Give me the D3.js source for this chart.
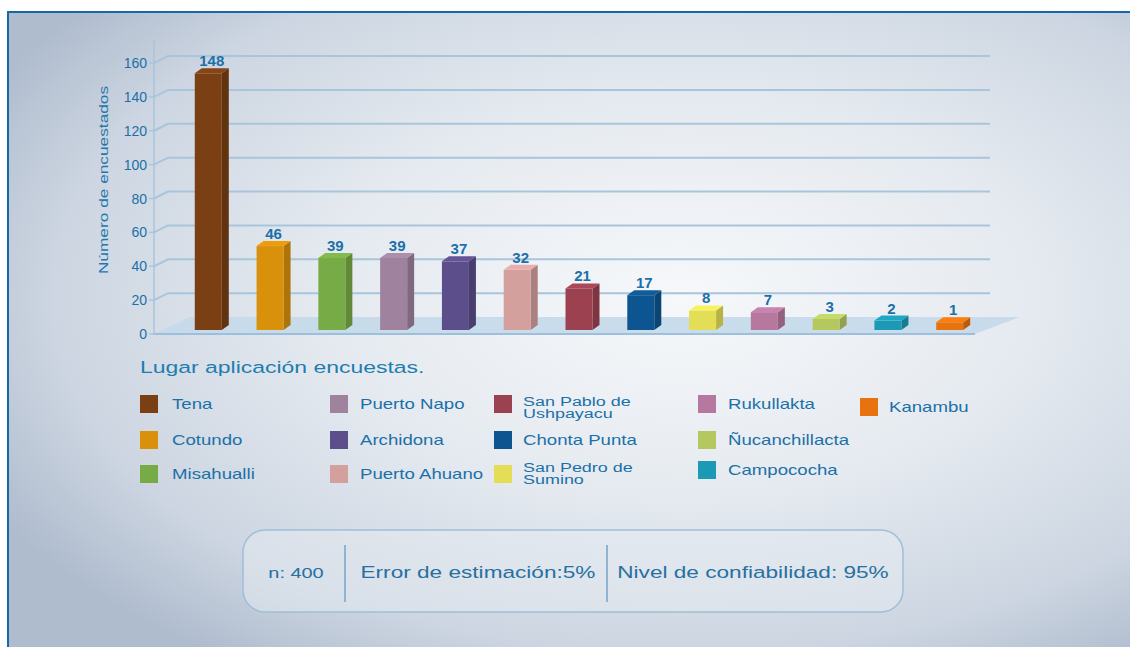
<!DOCTYPE html>
<html><head><meta charset="utf-8">
<script src="https://cdn.jsdelivr.net/npm/d3@7/dist/d3.min.js"></script>
<style>body{margin:0;background:#fff}svg{display:block}text{font-family:"Liberation Sans",Arial,sans-serif}</style>
</head><body><svg id="c" width="1130" height="647"></svg>
<script>
const categories = ["Tena","Cotundo","Misahualli","Puerto Napo","Archidona","Puerto Ahuano","San Pablo de Ushpayacu","Chonta Punta","San Pedro de Sumino","Rukullakta","Ñucanchillacta","Campococha","Kanambu"];
const values = [148,46,39,39,37,32,21,17,8,7,3,2,1];
const colors = ["#7a3f12","#d9900a","#77ab45","#9e829e","#5b4e8a","#d4a09e","#9c4150","#0d5590","#e3de55","#b7789f","#b5c860","#1c9ab5","#e8720e"];
const yTicks = [0,20,40,60,80,100,120,140,160];
const axisTitle = "Número de encuestados";
const legendTitle = "Lugar aplicación encuestas.";
const infoTexts = ["n: 400","Error de estimación:5%","Nivel de confiabilidad: 95%"];

const SX = 1.33; // extended face look
const svg = d3.select("#c");
const defs = svg.append("defs");
const rg = defs.append("radialGradient").attr("id","bg").attr("cx","60%").attr("cy","45%").attr("r","70%");
[[0,"#f6f8fa"],[0.45,"#e5eaf0"],[0.8,"#ccd5e1"],[1,"#afbcce"]].forEach(s=>rg.append("stop").attr("offset",s[0]).attr("stop-color",s[1]));

svg.append("rect").attr("x",7).attr("y",11).attr("width",1123).attr("height",636).attr("fill","url(#bg)");
svg.append("line").attr("x1",7).attr("x2",1130).attr("y1",12).attr("y2",12).attr("stroke","#1668a6").attr("stroke-width",2);
svg.append("line").attr("x1",8).attr("x2",8).attr("y1",11).attr("y2",647).attr("stroke","#1668a6").attr("stroke-width",2);

const y = d3.scaleLinear().domain([0,160]).range([334,63]);
const x = d3.scaleBand().domain(categories).range([160,998]).padding(0.563);
const dx = 7, dy = 5;
const blue = "#1b70a8";
const gridC = "#a9c5dc";

// floor
svg.append("polygon").attr("points",[[154,334],[975,334],[1020,317],[190,317]].map(p=>p.join(",")).join(" "))
  .attr("fill","#c4d9ea").attr("opacity",0.9);
svg.append("line").attr("x1",154).attr("x2",975).attr("y1",334).attr("y2",334).attr("stroke","#9dbfdc").attr("stroke-width",2);

// gridlines
const g = svg.append("g");
yTicks.filter(v=>v>0).forEach(v=>{
  const yy = y(v);
  g.append("path").attr("d",`M154,${yy}L168,${yy-7}L990,${yy-7}`).attr("fill","none").attr("stroke",gridC).attr("stroke-width",2);
});
svg.append("line").attr("x1",154).attr("x2",154).attr("y1",40).attr("y2",335).attr("stroke",gridC).attr("stroke-width",1.5);

// axis ticks
const ax = svg.append("g");
yTicks.forEach(v=>{
  ax.append("line").attr("x1",149).attr("x2",154).attr("y1",y(v)).attr("y2",y(v)).attr("stroke",gridC).attr("stroke-width",1.5);
  ax.append("text").attr("x",147).attr("y",y(v)+5).attr("text-anchor","end").attr("font-size",14).attr("fill",blue).text(v);
});
svg.append("text").attr("transform",`translate(108,180) rotate(-90) scale(${SX},1)`).attr("text-anchor","middle").attr("font-size",13).attr("fill","#1f78ad").text(axisTitle);

// bars
const bottom = y(0)-4;
const bars = svg.append("g");
categories.forEach((c,i)=>{
  const x0 = x(c), w = x.bandwidth(), t = y(values[i]) - 10;
  const col = d3.color(colors[i]);
  bars.append("polygon").attr("points",[[x0+w,t],[x0+w+dx,t-dy],[x0+w+dx,bottom-dy],[x0+w,bottom]].map(p=>p.join(",")).join(" ")).attr("fill",col.darker(0.6));
  bars.append("rect").attr("x",x0).attr("y",t).attr("width",w).attr("height",bottom-t).attr("fill",col);
  bars.append("polygon").attr("points",[[x0,t],[x0+w,t],[x0+w+dx,t-dy],[x0+dx,t-dy]].map(p=>p.join(",")).join(" ")).attr("fill",col.brighter(0.25));
  bars.append("text").attr("x",x0+(w+dx)/2).attr("y",t-dy-2).attr("text-anchor","middle")
    .attr("font-family","'Liberation Sans Narrow','Liberation Sans',Arial").attr("font-weight","bold").attr("font-size",15).attr("fill",blue).text(values[i]);
});

// legend
svg.append("text").attr("transform",`translate(140,373) scale(1.35,1)`).attr("font-size",17).attr("fill","#1f7db0").text(legendTitle);
const colX = [[140,172],[330,360],[494,523],[698,728],[860,889]];
const rowY = [404,440,474];
const lg = svg.append("g");
categories.forEach((c,i)=>{
  const col = Math.floor(i/3), row = i%3;
  const [bx,tx] = colX[col];
  let cy = rowY[row];
  if (col===4) cy = 407;
  if (col===3 && row===2) cy = 470;
  lg.append("rect").attr("x",bx).attr("y",cy-9).attr("width",18).attr("height",18).attr("fill",colors[i]);
  const parts = c.match(/^(San P\w+ de) (.+)$/);
  if (parts) {
    const b1 = row===0 ? cy+2 : cy-2;
    const tt = lg.append("text").attr("transform",`translate(${tx},${b1}) scale(${SX},1)`).attr("font-size",13.5).attr("fill",blue);
    tt.append("tspan").attr("x",0).attr("y",0).text(parts[1]);
    tt.append("tspan").attr("x",0).attr("y",12.5).text(parts[2]);
  } else {
    lg.append("text").attr("transform",`translate(${tx},${cy+5}) scale(${SX},1)`).attr("font-size",14).attr("fill",blue).text(c);
  }
});

// info box
svg.append("rect").attr("x",243).attr("y",530).attr("width",660).attr("height",82).attr("rx",22)
  .attr("fill","#e6ecf2").attr("fill-opacity",0.5).attr("stroke","#9fbfd8").attr("stroke-width",1.5);
[345,607].forEach(xx=>svg.append("line").attr("x1",xx).attr("x2",xx).attr("y1",545).attr("y2",602).attr("stroke","#8fb3d0").attr("stroke-width",2));
const infoX = [296,478,753], infoS=[15,17,17];
infoTexts.forEach((t,i)=>svg.append("text").attr("transform",`translate(${infoX[i]},578) scale(${SX},1)`).attr("text-anchor","middle").attr("font-size",infoS[i]).attr("fill","#2770a0").text(t));
</script></body></html>
